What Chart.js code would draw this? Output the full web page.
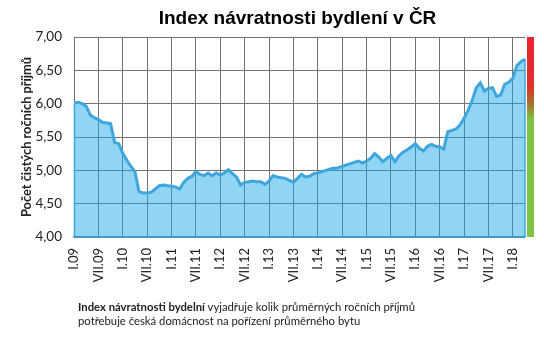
<!DOCTYPE html>
<html lang="cs">
<head>
<meta charset="utf-8">
<title>Index návratnosti bydlení v ČR</title>
<script src="https://cdn.jsdelivr.net/npm/chart.js@4/dist/chart.umd.min.js"></script>
<style>
  html, body { margin: 0; padding: 0; background: #fff; }
  #wrap { position: relative; width: 544px; height: 339px; }
  #note {
    position: absolute; left: 78px; top: 300px;
    font: 11.3px Lato, "Noto Sans", sans-serif; line-height: 14px; color: #222;
  }
</style>
</head>
<body>
<div id="wrap">
  <canvas id="indexChart" width="544" height="339"></canvas>
  <div id="note"><b>Index návratnosti bydelní</b> vyjadřuje kolik průměrných ročních příjmů<br>potřebuje česká domácnost na pořízení průměrného bytu</div>
</div>
<script>
// měsíční hodnoty indexu (počet ročních příjmů), leden až prosinec
const values2009 = [6.01, 6.02, 6.00, 5.96, 5.83, 5.79, 5.76, 5.72, 5.71, 5.70, 5.42, 5.40];
const values2010 = [5.26, 5.15, 5.06, 4.98, 4.68, 4.66, 4.66, 4.67, 4.72, 4.77, 4.78, 4.77];
const values2011 = [4.76, 4.75, 4.72, 4.82, 4.88, 4.91, 4.98, 4.94, 4.92, 4.96, 4.92, 4.96];
const values2012 = [4.93, 4.96, 5.01, 4.95, 4.90, 4.78, 4.82, 4.83, 4.84, 4.83, 4.83, 4.79];
const values2013 = [4.84, 4.92, 4.90, 4.89, 4.88, 4.85, 4.82, 4.88, 4.94, 4.90, 4.91, 4.95];
const values2014 = [4.96, 4.98, 5.00, 5.02, 5.03, 5.04, 5.06, 5.08, 5.10, 5.12, 5.14, 5.11];
const values2015 = [5.14, 5.18, 5.25, 5.20, 5.13, 5.18, 5.22, 5.13, 5.22, 5.27, 5.31, 5.35];
const values2016 = [5.40, 5.33, 5.29, 5.36, 5.39, 5.36, 5.35, 5.32, 5.58, 5.60, 5.62, 5.68];
const values2017 = [5.78, 5.90, 6.05, 6.24, 6.31, 6.19, 6.23, 6.24, 6.11, 6.13, 6.29, 6.32];
const values2018 = [6.38, 6.57, 6.63, 6.67];

// popisky osy x po půl roce
const tickLabels = [
  "I.09", "VII.09", "I.10", "VII.10", "I.11", "VII.11", "I.12", "VII.12",
  "I.13", "VII.13", "I.14", "VII.14", "I.15", "VII.15", "I.16", "VII.16",
  "I.17", "VII.17", "I.18"
];
const monthsPerTick = 6;

const yTicks = [4.0, 4.5, 5.0, 5.5, 6.0, 6.5, 7.0];

const chartTitle = "Index návratnosti bydlení v ČR";

const monthly = [].concat(values2009, values2010, values2011, values2012, values2013,
  values2014, values2015, values2016, values2017, values2018);
const points = monthly.map((v, i) => ({ x: i, y: v }));

const lineColor = "#3ea6dd";
const gridColor = "#737373";
const labelFont = "Lato, 'Noto Sans', sans-serif";

// nadpis vystředěný nad plochou grafu
const plotTitle = {
  id: "plotTitle",
  afterDraw(chart) {
    const { ctx, chartArea } = chart;
    ctx.save();
    ctx.font = "bold 19px 'Liberation Sans', Arial, sans-serif";
    ctx.fillStyle = "#000";
    ctx.textAlign = "center";
    ctx.textBaseline = "alphabetic";
    ctx.fillText(chartTitle, (chartArea.left + chartArea.right) / 2 - 2, 24);
    ctx.restore();
  }
};

// barevná škála vpravo od grafu
const scaleBar = {
  id: "scaleBar",
  afterDraw(chart) {
    const { ctx, chartArea } = chart;
    const x = chartArea.right + 2;
    const g = ctx.createLinearGradient(0, chartArea.top, 0, chartArea.bottom);
    g.addColorStop(0, "#ea2430");
    g.addColorStop(0.25, "#e0302c");
    g.addColorStop(0.33, "#a8702c");
    g.addColorStop(0.41, "#7fc243");
    g.addColorStop(1, "#7fc243");
    ctx.save();
    ctx.fillStyle = g;
    ctx.fillRect(x, chartArea.top, 7, chartArea.bottom - chartArea.top);
    ctx.restore();
  }
};

// obrys plochy po stranách
const areaEdge = {
  id: "areaEdge",
  afterDatasetsDraw(chart) {
    const { ctx, scales } = chart;
    const first = points[0], last = points[points.length - 1];
    const base = scales.y.getPixelForValue(scales.y.min);
    ctx.save();
    ctx.strokeStyle = lineColor;
    ctx.lineWidth = 1.5;
    ctx.beginPath();
    ctx.moveTo(scales.x.getPixelForValue(last.x), scales.y.getPixelForValue(last.y));
    ctx.lineTo(scales.x.getPixelForValue(last.x), base);
    ctx.moveTo(scales.x.getPixelForValue(first.x) + 0.5, scales.y.getPixelForValue(first.y));
    ctx.lineTo(scales.x.getPixelForValue(first.x) + 0.5, base);
    ctx.stroke();
    ctx.restore();
  }
};

new Chart(document.getElementById("indexChart"), {
  type: "line",
  data: {
    datasets: [{
      data: points,
      borderColor: lineColor,
      borderWidth: 3,
      backgroundColor: "rgba(25, 167, 233, 0.48)",
      fill: "start",
      pointRadius: 0,
      tension: 0
    }]
  },
  options: {
    responsive: false,
    animation: false,
    devicePixelRatio: 1,
    layout: { padding: { left: 0, right: 19, top: 37, bottom: 0 } },
    plugins: {
      legend: { display: false },
      tooltip: { enabled: false },
      title: { display: false }
    },
    scales: {
      x: {
        type: "linear",
        min: 0,
        max: monthly.length - 1,
        afterFit(scale) { scale.height = 102; },
        afterBuildTicks(scale) {
          scale.ticks = tickLabels.map((_, i) => ({ value: i * monthsPerTick }));
        },
        ticks: {
          autoSkip: false,
          minRotation: 90,
          maxRotation: 90,
          padding: 11,
          color: "#222",
          font: { family: labelFont, size: 13 },
          callback: (v) => tickLabels[Math.round(v / monthsPerTick)]
        },
        grid: { color: gridColor, lineWidth: 1, drawTicks: false },
        border: { color: lineColor, width: 1.5 }
      },
      y: {
        min: 4,
        max: 7,
        afterFit(scale) { scale.width = 74; },
        afterBuildTicks(scale) {
          scale.ticks = yTicks.map((v) => ({ value: v }));
        },
        ticks: {
          padding: 12,
          color: "#222",
          font: { family: labelFont, size: 13.5 },
          callback: (v) => v.toFixed(2).replace(".", ",")
        },
        grid: { color: gridColor, lineWidth: 1, drawTicks: false },
        border: { color: gridColor },
        title: {
          display: true,
          text: "Počet čistých ročních příjmů",
          color: "#222",
          font: { family: labelFont, size: 12.8, weight: "bold" },
          padding: { top: 19, bottom: 0 }
        }
      }
    }
  },
  plugins: [plotTitle, scaleBar, areaEdge]
});
</script>
</body>
</html>
